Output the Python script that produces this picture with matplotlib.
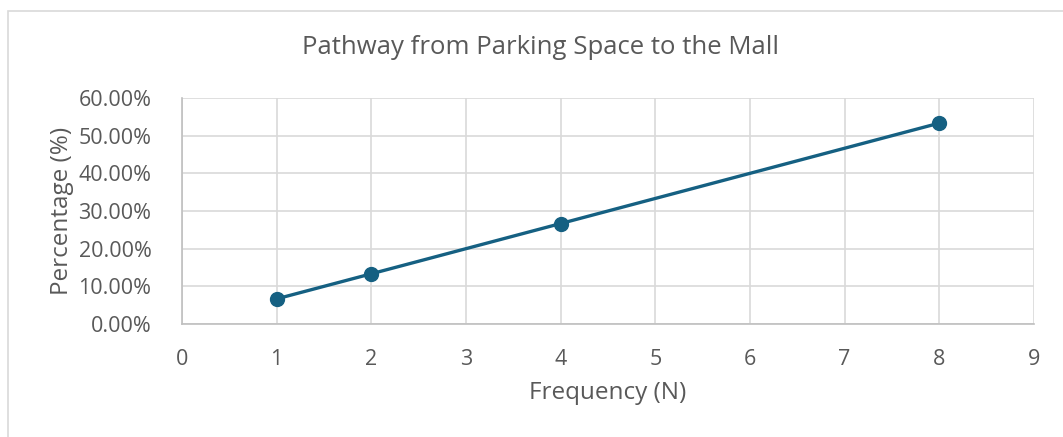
import matplotlib
matplotlib.use("Agg")
import matplotlib.pyplot as plt
from matplotlib.patches import Rectangle
from matplotlib.ticker import PercentFormatter

# frequency vs share of trips
frequency = [1, 2, 4, 8]
percentage = [6.67, 13.33, 26.67, 53.33]

plt.rcParams['font.family'] = ['Open Sans', 'DejaVu Sans']
text_color = '#595959'
grid_color = '#d9d9d9'
line_color = '#156082'

fig = plt.figure(figsize=(10.63, 4.37), dpi=100)
ax = fig.add_axes([182 / 1063, 113 / 437, 852 / 1063, 226 / 437])

# outer chart border
fig.patches.append(Rectangle((8 / 1063, -0.1), 1.2, (437 - 11) / 437 + 0.1,
                             transform=fig.transFigure, fill=False,
                             edgecolor=grid_color, linewidth=1.2))

ax.plot(frequency, percentage, color=line_color, linewidth=2.4,
        marker='o', markersize=10, zorder=3)

ax.set_xlim(0, 9)
ax.set_ylim(0, 60)
ax.set_xticks(range(0, 10))
ax.set_yticks(range(0, 61, 10))
ax.yaxis.set_major_formatter(PercentFormatter(decimals=2))
ax.grid(True, color=grid_color, linewidth=1.2)
ax.set_axisbelow(True)
for side in ['top', 'right']:
    ax.spines[side].set_visible(False)
for side in ['left', 'bottom']:
    ax.spines[side].set_color('#bfbfbf')
    ax.spines[side].set_linewidth(1.2)
ax.tick_params(length=0, labelsize=15.5, colors=text_color, pad=18)
ax.tick_params(axis='y', pad=22)

fig.suptitle('Pathway from Parking Space to the Mall', fontsize=18.5,
             color=text_color, x=540 / 1063, y=1 - 47 / 437, va='center')
ax.set_xlabel('Frequency (N)', fontsize=17.5, color=text_color, labelpad=8)
ax.set_ylabel('Percentage (%)', fontsize=17.5, color=text_color, labelpad=3)

fig.savefig('out.png', dpi=100)
